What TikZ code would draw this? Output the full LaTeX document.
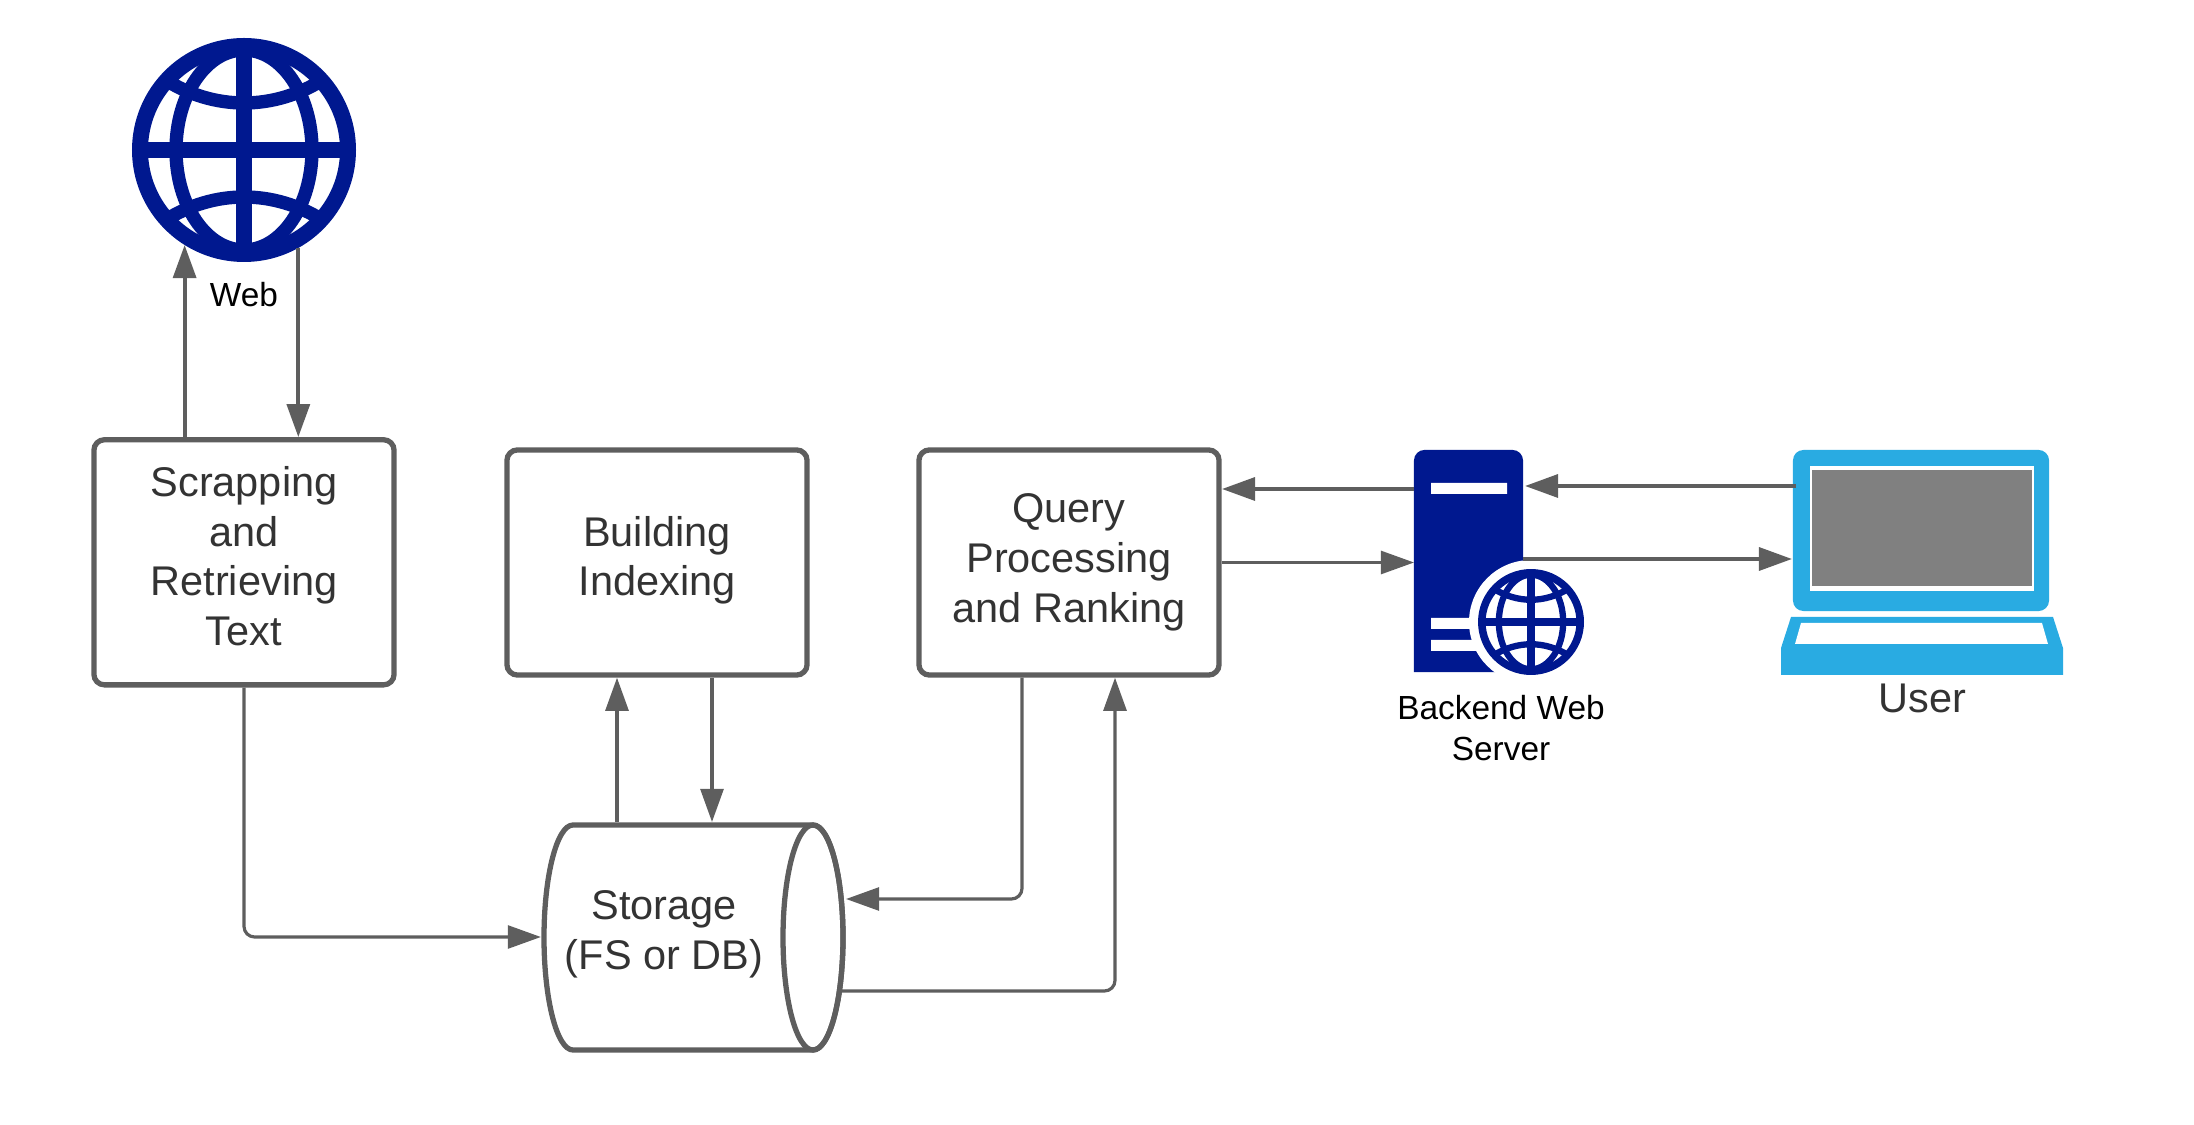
\documentclass[tikz,border=0pt]{standalone}
\usepackage{fontspec}
\setmainfont{Liberation Sans}
\usetikzlibrary{arrows.meta}

\definecolor{navy}{HTML}{00188F}
\definecolor{skyblue}{HTML}{29ABE2}
\definecolor{linegray}{HTML}{5E5E5E}
\definecolor{textgray}{HTML}{333333}

% globe icon: centre, size factor (1 = radius 112)
\newcommand{\drawglobe}[2]{
  \begin{scope}[shift={#1},scale=#2,navy]
    \clip (0,0) circle (104);
    \draw[line width=#2*3.8pt] (0,0) ellipse (68 and 100);
    \draw[line width=#2*3.8pt] (-80,-71) .. controls (-30,-39) and (30,-39) .. (80,-71);
    \draw[line width=#2*3.8pt] (-80,71) .. controls (-30,39) and (30,39) .. (80,71);
    \draw[line width=#2*4.55pt] (0,-104) -- (0,104);
    \draw[line width=#2*4.55pt] (-104,0) -- (104,0);
  \end{scope}
  \draw[navy,line width=#2*4.55pt] #1 circle (#2*104);
}

\begin{document}
\begin{tikzpicture}[
  x=0.01cm, y=-0.01cm,
  box/.style={draw=linegray, line width=1.5pt, rounded corners=3pt, minimum width=3.0cm, align=center,
    text=textgray, font=\fontsize{11.8}{14.2}\selectfont},
  conn/.style={draw=linegray, line width=0.9pt, rounded corners=3pt, -{Triangle[length=9.4pt,width=6.5pt]}},
  heavy/.style={conn, line width=1.1pt},
  caption/.style={align=center, font=\fontsize{9.5}{11.6}\selectfont},
  hollow/.style={inner sep=0pt, outer sep=0pt}
]
\useasboundingbox (0,0) rectangle (2194,1125);

% Web
\node[hollow, circle, minimum size=2.24cm] (web) at (244,150) {};
\drawglobe{(244,150)}{1}
\node[caption] (weblabel) at (244,295) {Web};

% Boxes
\node[box, minimum height=2.45cm, text depth=3.6pt] (scrap) at (244,562.3) {Scrapping\\and\\Retrieving\\Text};
\node[box, minimum height=2.25cm, text depth=3.7pt] (build) at (657,562.5) {Building\\Indexing};
\node[box, minimum height=2.25cm] (query) at (1069,562.5) {Query\\Processing\\and Ranking};

% Storage
\node[hollow, minimum width=3.05cm, minimum height=2.30cm] (storage) at (693.5,937) {};
\draw[linegray, line width=1.5pt] (573,825) -- (813,825) arc[start angle=-90, end angle=90, x radius=30, y radius=112.5]
  -- (573,1050) arc[start angle=90, end angle=270, x radius=29, y radius=112.5] -- cycle;
\draw[linegray, line width=1.5pt] (813,937.5) ellipse (30 and 112.5);
\node[box, draw=none, minimum width=0pt] (storagelabel) at (664,934) {Storage\\(FS or DB)};

% Backend server
\node[hollow, minimum width=1.09cm, minimum height=2.22cm] (server) at (1468.5,561) {};
\fill[navy] (server.south west) [rounded corners=3pt] -- (server.north west) -- (server.north east) [sharp corners] -- (server.south east) -- cycle;
\fill[white] (1431,483) rectangle (1507,494) (1431,618) rectangle (1507,629) (1431,640) rectangle (1507,651);
\fill[white] (1531,622) circle (62);
\fill[white] (1523,672) rectangle (1600,560);
\drawglobe{(1531,622)}{0.473}
\node[caption] (serverlabel) at (1501,728) {Backend Web\\Server};

% User laptop
\node[hollow, fill=skyblue, rounded corners=3pt, minimum width=2.56cm, minimum height=1.61cm] (laptop) at (1921,530.5) {};
\fill[white] (1810,466) rectangle (2034,591);
\fill[gray] (1812,470) rectangle (2032,586);
\fill[skyblue] (1791,617) -- (2053,617) -- (2063,648) -- (2063,675) -- (1781,675) -- (1781,648) -- cycle;
\fill[white] (1801,623) -- (2042,623) -- (2048,644) -- (1795,644) -- cycle;
\node[caption, text=textgray, font=\fontsize{11.8}{14}\selectfont] (userlabel) at (1922.5,698) {User};

% Ports
\coordinate (Wu) at (web.-122.4);
\coordinate (Wd) at (web.-61.2);
\coordinate (Sc) at (244,937);
\coordinate (Bu) at (617,822);
\coordinate (Bd) at (712,822);
\coordinate (Qd) at (1022,899);
\coordinate (Qu) at (1115,991);
\coordinate (Si) at (846,899);
\coordinate (So) at (840,991);
\coordinate (Ls) at (1796,486);
\coordinate (Ss) at (1525,486);
\coordinate (Se) at (1523,559);
\coordinate (Le) at (1792,559);
\coordinate (Qs) at (1414,489);
\coordinate (Qe) at (1222,489);
\coordinate (Sa) at (1414,562.5);

% Connectors
\draw[heavy] (Wu |- scrap.north) -- (Wu);
\draw[heavy] (Wd) -- (Wd |- scrap.north);
\draw[conn] (scrap.south) -- (Sc) -- (storage.west);
\draw[conn] (Bu) -- (Bu |- build.south);
\draw[conn] (Bd |- build.south) -- (Bd);
\draw[conn] (Qd |- query.south) -- (Qd) -- (Si);
\draw[conn] (So) -- (Qu) -- (Qu |- query.south);
\draw[heavy] (Qs) -- (Qe);
\draw[conn] (query.east) -- (Sa);
\draw[heavy] (Ls) -- (Ss);
\draw[heavy] (Se) -- (Le);

\end{tikzpicture}
\end{document}
